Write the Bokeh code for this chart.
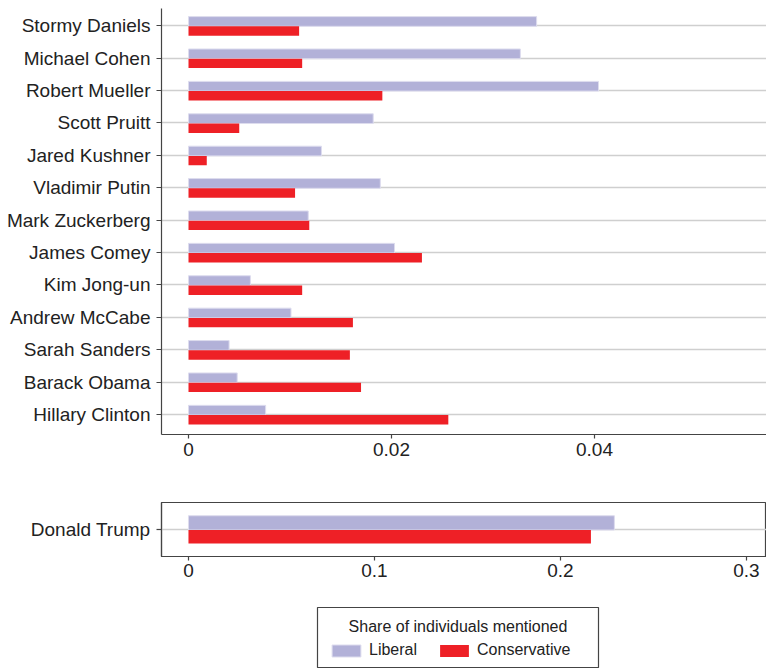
from bokeh.plotting import figure
from bokeh.models import (Range1d, FixedTicker, Legend, LegendItem, ColumnDataSource,
                          BoxAnnotation, Label)
from bokeh.layouts import column
from bokeh.transform import dodge
from bokeh.embed import file_html
from bokeh.resources import INLINE

# ---------------- data ----------------
names = ["Stormy Daniels", "Michael Cohen", "Robert Mueller", "Scott Pruitt",
         "Jared Kushner", "Vladimir Putin", "Mark Zuckerberg", "James Comey",
         "Kim Jong-un", "Andrew McCabe", "Sarah Sanders", "Barack Obama",
         "Hillary Clinton"]
liberal = [0.0343, 0.0327, 0.0404, 0.0182, 0.0131, 0.0189, 0.0118, 0.0203,
           0.0061, 0.0101, 0.0040, 0.0048, 0.0076]
conservative = [0.0109, 0.0112, 0.0191, 0.0050, 0.0018, 0.0105, 0.0119, 0.0230,
                0.0112, 0.0162, 0.0159, 0.0170, 0.0256]

trump_name = ["Donald Trump"]
trump_lib = [0.229]
trump_con = [0.2164]

top_ticks = [0, 0.02, 0.04]
top_tick_labels = ["0", "0.02", "0.04"]
bot_ticks = [0, 0.1, 0.2, 0.3]
bot_tick_labels = ["0", "0.1", "0.2", "0.3"]

legend_title = "Share of individuals mentioned"
series_labels = ["Liberal", "Conservative"]

# ---------------- style ----------------
LIB = "#b2b1d8"
LIB_LINE = "#dddcee"
CON = "#ee2026"
FONT = "Liberation Sans"
TXT = "#222222"
AX = "#444444"
GRID = "#cfcfcf"
FS = "19px"


def style(p, xticks, xlabels, yticks, ylabels, xstand):
    p.xgrid.visible = False
    p.ygrid.ticker = FixedTicker(ticks=yticks)
    p.ygrid.grid_line_color = GRID
    p.ygrid.grid_line_width = 1.5
    p.xaxis.ticker = FixedTicker(ticks=xticks)
    p.xaxis.major_label_overrides = dict(zip(xticks, xlabels))
    p.yaxis.ticker = FixedTicker(ticks=yticks)
    p.yaxis.major_label_overrides = dict(zip(yticks, ylabels))
    for ax in (p.xaxis, p.yaxis):
        ax.axis_line_color = AX
        ax.axis_line_width = 1.2
        ax.major_tick_line_color = AX
        ax.major_tick_line_width = 1.2
        ax.major_tick_in = 0
        ax.minor_tick_line_color = None
        ax.major_label_text_font = FONT
        ax.major_label_text_font_size = FS
        ax.major_label_text_color = TXT
    p.xaxis.major_tick_out = 4
    p.xaxis.major_label_standoff = xstand
    p.yaxis.major_tick_out = 5
    p.yaxis.major_label_standoff = 6
    p.background_fill_color = "white"
    p.border_fill_color = "white"


# ---------------- top panel ----------------
n = len(names)
pos = [n - 1 - i for i in range(n)]
src = ColumnDataSource(dict(pos=pos, lib=liberal, con=conservative))

p1 = figure(frame_width=605, frame_height=426,
            x_range=Range1d(-0.00266, 0.05695), y_range=Range1d(-0.62, 12.53),
            min_border_left=161, min_border_right=0, min_border_top=8,
            min_border_bottom=40, toolbar_location=None, output_backend="svg")
p1.hbar(y=dodge("pos", 0.13, range=p1.y_range), left=0, right="lib", height=0.30,
        source=src, fill_color=LIB, line_color=LIB_LINE, line_width=1)
p1.hbar(y=dodge("pos", -0.165, range=p1.y_range), left=0, right="con", height=0.29,
        source=src, fill_color=CON, line_color=None)
style(p1, top_ticks, top_tick_labels, pos, names, 4)
p1.outline_line_color = None

# ---------------- bottom panel ----------------
tsrc = ColumnDataSource(dict(pos=[0], lib=trump_lib, con=trump_con))
p2 = figure(frame_width=605, frame_height=54,
            x_range=Range1d(-0.0145, 0.3108), y_range=Range1d(-1, 1),
            min_border_left=161, min_border_right=0, min_border_top=28,
            min_border_bottom=40, toolbar_location=None, output_backend="svg")
p2.hbar(y=dodge("pos", 0.245, range=p2.y_range), left=0, right="lib", height=0.53,
        source=tsrc, fill_color=LIB, line_color=LIB_LINE, line_width=1)
p2.hbar(y=dodge("pos", -0.27, range=p2.y_range), left=0, right="con", height=0.50,
        source=tsrc, fill_color=CON, line_color=None)
style(p2, bot_ticks, bot_tick_labels, [0], trump_name, 3)
p2.outline_line_color = AX
p2.outline_line_width = 1.2
p2.outline_line_alpha = 1.0

# ---------------- legend panel (data space = page pixels) ----------------
p3 = figure(frame_width=605, frame_height=72, x_range=Range1d(161, 766), y_range=Range1d(0, 72),
            min_border_left=161, min_border_right=0, min_border_top=0, min_border_bottom=0,
            x_axis_location=None, y_axis_location=None,
            toolbar_location=None, output_backend="svg")
p3.grid.visible = False
p3.outline_line_color = None
p3.background_fill_color = "white"
p3.border_fill_color = "white"
# swatch renderers for the legend, kept outside the visible area
r1 = p3.hbar(y=dodge("pos", -500, range=p3.y_range), left=0, right="lib", height=0.5,
             source=tsrc, fill_color=LIB, line_color=LIB_LINE, line_width=1)
r2 = p3.hbar(y=dodge("pos", -500, range=p3.y_range), left=0, right="con", height=0.5,
             source=tsrc, fill_color=CON, line_color=None)

frame_box = BoxAnnotation(left=317, right=598, bottom=1, top=61,
                          fill_color="white", fill_alpha=1.0,
                          line_color=AX, line_width=1.2, line_alpha=1.0)
p3.add_layout(frame_box)
title_lbl = Label(x=457.5, y=42, text=legend_title, text_align="center",
                  text_baseline="middle", text_font=FONT, text_font_size="16px",
                  text_color=TXT)
p3.add_layout(title_lbl)

legend = Legend(items=[LegendItem(label=series_labels[0], renderers=[r1]),
                       LegendItem(label=series_labels[1], renderers=[r2])],
                orientation="horizontal", location=(167, 8))
legend.label_text_font = FONT
legend.label_text_font_size = "16px"
legend.label_text_color = TXT
legend.glyph_width = 36
legend.glyph_height = 15
legend.label_height = 20
legend.label_standoff = 5
legend.spacing = 19
legend.padding = 0
legend.margin = 0
legend.border_line_color = None
legend.background_fill_alpha = 0.0
p3.add_layout(legend)

layout = column(p1, p2, p3, spacing=0)
open("out.html", "w").write(file_html(layout, INLINE))
